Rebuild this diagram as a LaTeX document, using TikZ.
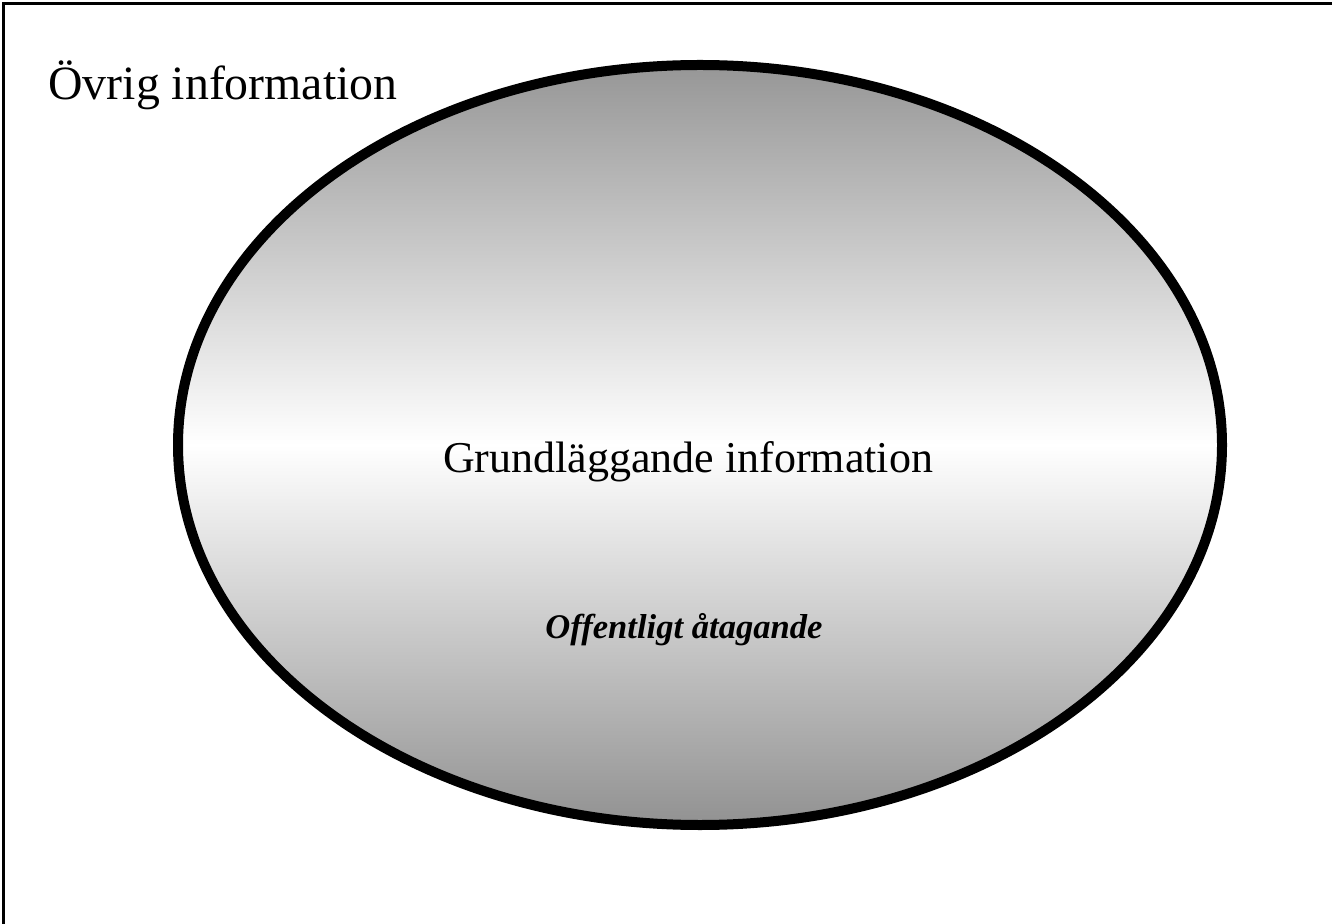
\documentclass[tikz,border=0pt]{standalone}
\usepackage{fontspec}
\setmainfont{Liberation Serif}
\usetikzlibrary{shapes.geometric}

\begin{document}
\begin{tikzpicture}[
x=0.5pt, y=-0.5pt,
frame/.style={line width=1.5pt, black},
oval/.style={
	ellipse, draw, line width=5pt,
	minimum width=522pt, minimum height=380pt,
	inner sep=0pt, outer sep=0pt,
	top color=black!41, bottom color=black!43, middle color=white
},
label/.style={font=\fontsize{22}{26}\selectfont, inner sep=0pt}
]
\useasboundingbox (0,0) rectangle (1332,924);
\draw[frame] (3,924) -- (3,3.5) -- (1332,3.5);
\node[oval] (core) at (700,445) {};
\node[label, anchor=base west, font=\fontsize{23.9}{28}\selectfont] (ovrig) at (48,100) {Övrig information};
\node[label, anchor=base] (grund) at (688,473) {Grundläggande information};
\node[label, anchor=base, font=\fontsize{17.3}{20}\selectfont\bfseries\itshape] (offentlig) at (684,638) {Offentligt åtagande};
\end{tikzpicture}
\end{document}
